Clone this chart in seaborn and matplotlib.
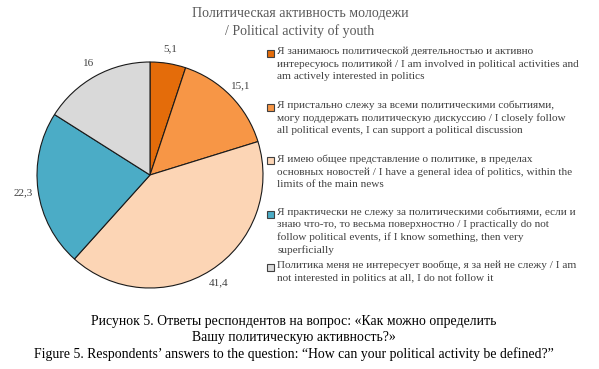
import matplotlib.pyplot as plt
import matplotlib.patches as mpatches
import seaborn as sns

sns.set_theme(style="white")
plt.rcParams['font.family'] = ['Liberation Serif', 'DejaVu Serif']

# Data
values = [5.1, 15.1, 41.4, 22.3, 16]
value_labels = ['5,1', '15,1', '41,4', '22,3', '16']
colors = ['#E46C0A', '#F79646', '#FCD5B5', '#4BACC6', '#D9D9D9']
legend_labels = [
    'Я занимаюсь политической деятельностью и активно\n'
    'интересуюсь политикой / I am involved in political activities and\n'
    'am actively interested in politics',
    'Я пристально слежу за всеми политическими событиями,\n'
    'могу поддержать политическую дискуссию / I closely follow\n'
    'all political events, I can support a political discussion',
    'Я имею общее представление о политике, в пределах\n'
    'основных новостей / I have a general idea of politics, within the\n'
    'limits of the main news',
    'Я практически не слежу за политическими событиями, если и\n'
    'знаю что-то, то весьма поверхностно / I practically do not\n'
    'follow political events, if I know something, then very\n'
    'superficially',
    'Политика меня не интересует вообще, я за ней не слежу / I am\n'
    'not interested in politics at all, I do not follow it',
]
title_lines = ['Политическая активность молодежи', '/ Political activity of youth']
caption_lines = ['Рисунок 5. Ответы респондентов на вопрос: «Как можно определить',
                 'Вашу политическую активность?»',
                 'Figure 5. Respondents’ answers to the question: “How can your political activity be defined?”']

W, H = 599, 369
fig = plt.figure(figsize=(W / 100, H / 100), dpi=100)
ax = fig.add_axes([37 / W, 81 / H, 226 / W, 226 / H])

wedges, texts = ax.pie(values, labels=value_labels, colors=colors, startangle=90,
                       counterclock=False, labeldistance=1.13,
                       wedgeprops=dict(edgecolor='#1a1a1a', linewidth=0.8),
                       textprops=dict(fontsize=8, color='#404040'))
for t in texts:
    t.set_ha('center')
    t.set_va('center')
    t.set_zorder(0)
ax.set_xlim(-1, 1)
ax.set_ylim(-1, 1)

# title
for line, y in zip(title_lines, [14, 31]):
    fig.text(300 / W, 1 - y / H, line, ha='center', va='center', fontsize=10,
             color='#595959')

# legend
centers = [53, 107, 161, 214, 267]
for lab, col, yc in zip(legend_labels, colors, centers):
    fig.patches.append(mpatches.Rectangle((267 / W, 1 - (yc + 3.5) / H), 7 / W, 7 / H,
                                          transform=fig.transFigure, facecolor=col,
                                          edgecolor='#404040', linewidth=0.8))
    fig.text(277 / W, 1 - (yc - 6.5) / H, lab, ha='left', va='top', fontsize=8.1,
             color='#404040', linespacing=1.42)

# caption
for line, y in zip(caption_lines, [321, 337, 354]):
    fig.text(294 / W, 1 - y / H, line, ha='center', va='center', fontsize=9.9,
             color='black')

fig.savefig('out.png', dpi=100)
